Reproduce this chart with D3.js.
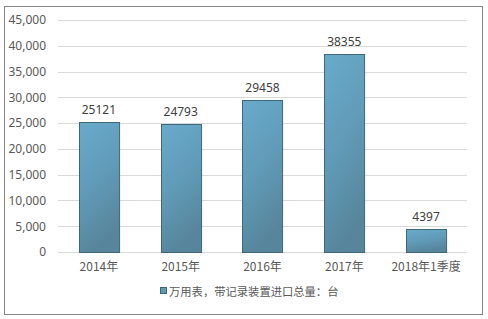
<!DOCTYPE html>
<html>
<head>
<meta charset="utf-8">
<script src="https://d3js.org/d3.v7.min.js"></script>
<style>
body { margin: 0; background: #fff; }
text { font-family: "Noto Sans CJK SC", "Noto Sans", sans-serif; }
</style>
</head>
<body>
<svg id="chart" width="488" height="319"></svg>
<script>
const categories = ["2014年", "2015年", "2016年", "2017年", "2018年1季度"];
const values = [25121, 24793, 29458, 38355, 4397];
const yTicks = [0, 5000, 10000, 15000, 20000, 25000, 30000, 35000, 40000, 45000];
const seriesName = "万用表，带记录装置进口总量：台";

const svg = d3.select("#chart");

// outer frame
svg.append("rect")
    .attr("x", 4.5).attr("y", 6.5)
    .attr("width", 478).attr("height", 308)
    .attr("fill", "#fff").attr("stroke", "#868686");

const defs = svg.append("defs");
const grad = defs.append("linearGradient")
    .attr("id", "barGrad").attr("x1", 0).attr("y1", 0).attr("x2", 0.3).attr("y2", 1);
grad.append("stop").attr("offset", "0%").attr("stop-color", "#69aacb");
grad.append("stop").attr("offset", "50%").attr("stop-color", "#619cb9");
grad.append("stop").attr("offset", "100%").attr("stop-color", "#57869c");

const x = d3.scaleBand()
    .domain(categories)
    .range([58, 467])
    .paddingInner(0.51)
    .paddingOuter(0.255);

const y = d3.scaleLinear()
    .domain([0, 45000])
    .range([252, 20]);

// gridlines
svg.append("g")
    .selectAll("line")
    .data(yTicks)
    .enter()
    .append("line")
    .attr("x1", 58).attr("x2", 467)
    .attr("y1", d => Math.round(y(d)) + 0.5)
    .attr("y2", d => Math.round(y(d)) + 0.5)
    .attr("stroke", "#d9d9d9");

// y axis labels
const yAxis = svg.append("g")
    .attr("transform", "translate(46,0)")
    .call(d3.axisLeft(y).tickValues(yTicks).tickSize(0).tickPadding(0).tickFormat(d3.format(",")));
yAxis.select(".domain").remove();
yAxis.selectAll("text")
    .attr("fill", "#595959")
    .style("font-size", "12px")
    .style("font-family", "'Noto Sans', sans-serif");

// bars
svg.append("g")
    .selectAll("rect")
    .data(values)
    .enter()
    .append("rect")
    .attr("x", (d, i) => Math.round(x(categories[i])) + 0.5)
    .attr("y", d => Math.round(y(d)) + 0.5)
    .attr("width", x.bandwidth())
    .attr("height", d => Math.round(y(0)) - Math.round(y(d)))
    .attr("fill", "url(#barGrad)")
    .attr("stroke", "#3f6679")
    .attr("stroke-width", 1);

// value labels
svg.append("g")
    .selectAll("text")
    .data(values)
    .enter()
    .append("text")
    .attr("x", (d, i) => x(categories[i]) + x.bandwidth() / 2)
    .attr("y", d => y(d) - 8)
    .attr("text-anchor", "middle")
    .attr("fill", "#404040")
    .style("font-size", "12px")
    .style("font-family", "'Noto Sans', sans-serif")
    .text(d => d);

// x axis labels
const xAxis = svg.append("g")
    .attr("transform", "translate(0,252)")
    .call(d3.axisBottom(x).tickSize(0).tickPadding(10));
xAxis.select(".domain").remove();
xAxis.selectAll("text")
    .attr("fill", "#595959")
    .style("font-size", "12px");

// legend
const legend = svg.append("g").attr("transform", "translate(160,296)");
legend.append("rect")
    .attr("x", 0.5).attr("y", -8.5)
    .attr("width", 6).attr("height", 6)
    .attr("fill", "#5f9ab7").attr("stroke", "#3f6679");
legend.append("text")
    .attr("x", 9).attr("y", 0)
    .attr("fill", "#595959")
    .style("font-size", "11.3px")
    .text(seriesName);
</script>
</body>
</html>
